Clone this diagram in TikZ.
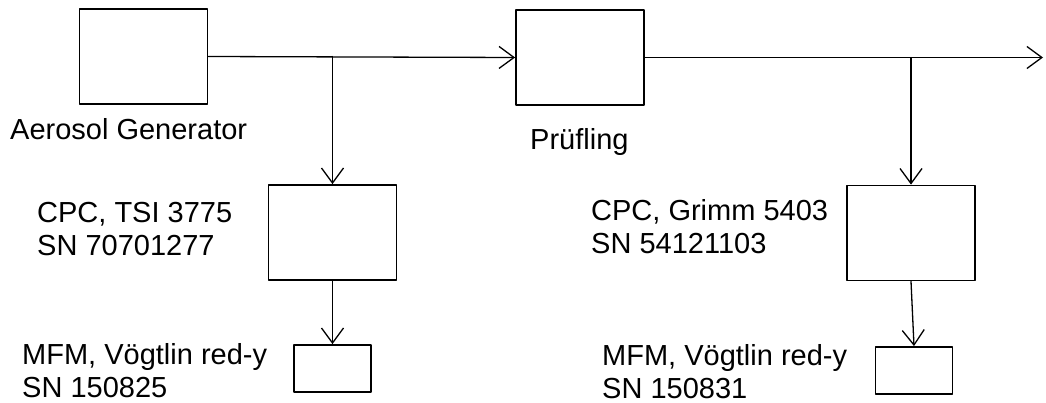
\documentclass[tikz,border=0pt]{standalone}
\usepackage{fontspec}
\setmainfont{Liberation Sans}
\usetikzlibrary{arrows.meta}
\tikzset{
    lab/.style={
        font=\fontsize{29}{33}\selectfont, inner sep=0pt, align=left, anchor=base west
    }
}

\begin{document}
\begin{tikzpicture}[x=1pt,y=-1pt, line cap=round, line join=round]

\tikzset{
  box/.style={draw=black, line width=1.8pt, inner sep=0pt, minimum width=128pt, minimum height=95pt},
  smallbox/.style={box, minimum width=77pt, minimum height=47pt},
  flow/.style={line width=1.3pt, -{Straight Barb[length=15pt,width=22pt,line width=1.3pt]}}
}

\useasboundingbox (0,0) rectangle (1046,403);

\node[box] (gen) at (143.5,56.5) {};
\node[box] (dut) at (580,57.5) {};
\node[box] (cpc1) at (332.5,232.5) {};
\node[smallbox] (mfm1) at (332.5,368.5) {};
\node[box] (cpc2) at (911,233) {};
\node[smallbox] (mfm2) at (914,370.5) {};

\coordinate (br1) at (cpc1.north |- gen.east);
\coordinate (br2) at (cpc2.north |- dut.east);
\coordinate (out) at (1043,57.5);

\draw[flow] (gen.east) -- (dut.west);
\draw[flow] (dut.east) -- (out);
\draw[flow] (br1) -- (cpc1.north);
\draw[flow] (br2) -- (cpc2.north);
\draw[flow] (cpc1.south) -- (mfm1.north);
\draw[flow] (cpc2.south) -- (mfm2.north);

% labels: base = baseline of the last line
\node[lab] (genlab) at (10,140) {Aerosol Generator};
\node[lab] (dutlab) at (530,150) {Prüfling};
\node[lab] (cpc1lab) at (37,256) {CPC, TSI 3775\\SN 70701277};
\node[lab] (mfm1lab) at (22,397) {MFM, Vögtlin red-y\\SN 150825};
\node[lab] (cpc2lab) at (591,254) {CPC, Grimm 5403\\SN 54121103};
\node[lab] (mfm2lab) at (602,398) {MFM, Vögtlin red-y\\SN 150831};

\end{tikzpicture}
\end{document}
